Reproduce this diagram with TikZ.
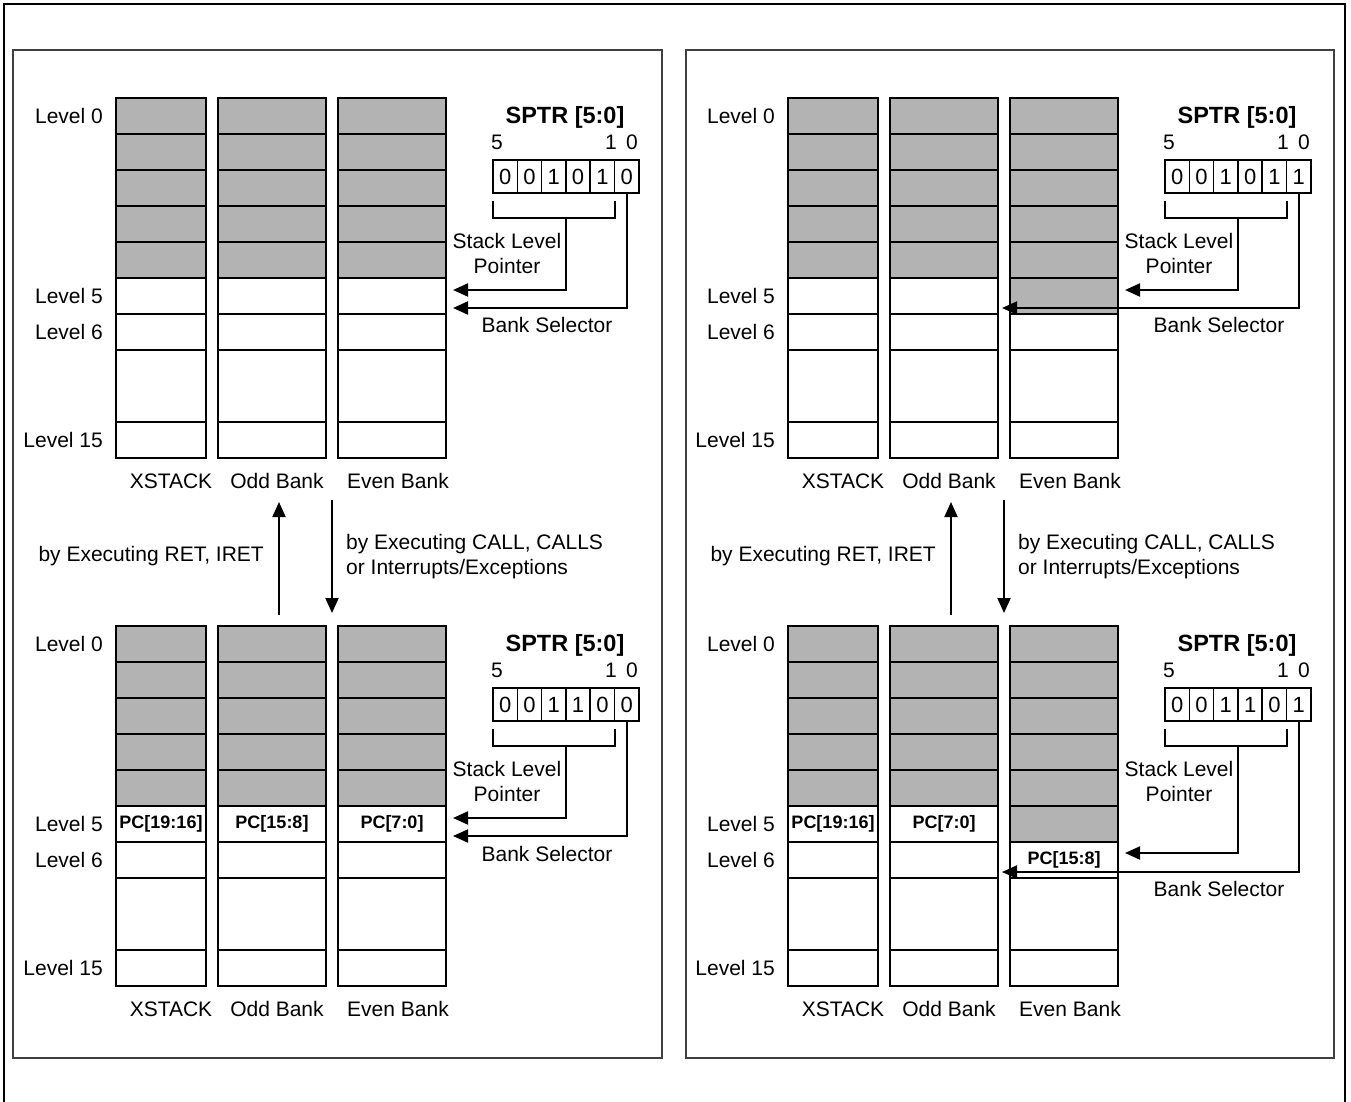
\documentclass[tikz,border=0pt]{standalone}
\usepackage{fontspec}
\setmainfont{Liberation Sans}
\usepackage{tikz}
\usetikzlibrary{arrows.meta, positioning}
\definecolor{stackgray}{RGB}{179,179,179}

\begin{document}
\begin{tikzpicture}[x=1pt, y=-1pt,
  cell/.style={rectangle, draw=black, line width=2pt, fill=white,
               minimum height=36pt, inner sep=0pt},
  shade/.style={cell, fill=stackgray},
  reg/.style={rectangle, draw=black, line width=1.6pt, minimum width=24.3pt,
              minimum height=33pt, inner sep=0pt, outer sep=0pt,
              font=\fontsize{22}{26}\selectfont},
  lvl/.style={inner sep=0pt, font=\fontsize{21}{25}\selectfont},
  bitno/.style={inner sep=0pt, font=\fontsize{21}{25}\selectfont},
  txt/.style={inner sep=0pt, font=\fontsize{21}{25}\selectfont, align=center},
  ttl/.style={inner sep=0pt, font=\fontsize{23.5}{28}\selectfont\bfseries},
  pclbl/.style={inner sep=0pt, font=\fontsize{18}{22}\selectfont\bfseries},
  ptr/.style={-{Triangle[length=15pt, width=13pt]}, line width=2pt},
  flow/.style={-{Triangle[length=15pt, width=13pt]}, line width=2pt},
  frame/.style={draw=black!75, line width=2pt}
]
  \useasboundingbox (0,0) rectangle (1351,1102);

  % the four stacks
  \foreach \p/\dx/\dy in {tl/0/0, tr/672/0, bl/0/528, br/672/528} {
    \foreach \c/\cx/\w in {x/161/90, o/272/108, e/392/108} {
      \foreach \r in {0,...,4}
        \node[shade, minimum width=\w] (\p\c\r) at (\cx+\dx, 116+36*\r+\dy) {};
      \node[cell, minimum width=\w] (\p\c5) at (\cx+\dx, 296+\dy) {};
      \node[cell, minimum width=\w] (\p\c6) at (\cx+\dx, 332+\dy) {};
      \node[cell, minimum width=\w, minimum height=72pt] (\p\c m) at (\cx+\dx, 386+\dy) {};
      \node[cell, minimum width=\w] (\p\c f) at (\cx+\dx, 440+\dy) {};
    }
    \node[lvl, left=12pt of \p x0] (\p l0) {Level 0};
    \node[lvl, left=12pt of \p x5] (\p l5) {Level 5};
    \node[lvl, left=12pt of \p x6] (\p l6) {Level 6};
    \node[lvl, left=12pt of \p xf] (\p lf) {Level 15};
    \node[txt] (\p xs) at (171+\dx, 481+\dy) {XSTACK};
    \node[txt] (\p ob) at (277+\dx, 481+\dy) {Odd Bank};
    \node[txt] (\p eb) at (398+\dx, 481+\dy) {Even Bank};
  }
  \node[shade, minimum width=108] (tre5s) at (tre5) {};
  \node[shade, minimum width=108] (bre5s) at (bre5) {};

  % pointer targets
  \coordinate (tlsl) at (453,290);
  \coordinate (tlbs) at (453,308);
  \coordinate (trsl) at (1125,290);
  \coordinate (trbs) at (1002,308);
  \coordinate (blsl) at (453,818);
  \coordinate (blbs) at (453,836);
  \coordinate (brsl) at (1125,853);
  \coordinate (brbs) at (1002,872);

  % SPTR registers
  \foreach \p/\dx/\dy/\ba/\bb/\bc/\bd/\be/\bf in
      {tl/0/0/0/0/1/0/1/0, tr/672/0/0/0/1/0/1/1, bl/0/528/0/0/1/1/0/0, br/672/528/0/0/1/1/0/1} {
    \node[ttl] (\p sp) at (565+\dx, 117+\dy) {SPTR [5:0]};
    \node[bitno] (\p n5) at (497+\dx, 142+\dy) {5};
    \node[bitno] (\p n1) at (611+\dx, 142+\dy) {1};
    \node[bitno] (\p n0) at (632+\dx, 142+\dy) {0};
    \node[reg] (\p b5) at (505.2+\dx, 176.5+\dy) {\ba};
    \node[reg, right=0pt of \p b5] (\p b4) {\bb};
    \node[reg, right=0pt of \p b4] (\p b3) {\bc};
    \node[reg, right=0pt of \p b3] (\p b2) {\bd};
    \node[reg, right=0pt of \p b2] (\p b1) {\be};
    \node[reg, right=0pt of \p b1] (\p b0) {\bf};
    \draw[line width=2pt] ([yshift=-8pt]\p b5.south west) -- ++(0,17) -| ([yshift=-8pt]\p b1.south east);
    \draw[ptr] ([yshift=-25pt]\p b3.south east) |- (\p sl);
    \draw[ptr] (\p b0.south) |- (\p bs);
    \node[txt] (\p slt) at (507+\dx, 253.5+\dy) {Stack Level\\Pointer};
  }
  \node[txt] (tlbst) at (547,325) {Bank Selector};
  \node[txt] (trbst) at (1219,325) {Bank Selector};
  \node[txt] (blbst) at (547,854) {Bank Selector};
  \node[txt] (brbst) at (1219,889) {Bank Selector};

  % pushed PC
  \node[pclbl] (blpc1) at (blx5) {PC[19:16]};
  \node[pclbl] (blpc2) at (blo5) {PC[15:8]};
  \node[pclbl] (blpc3) at (ble5) {PC[7:0]};
  \node[pclbl] (brpc1) at (brx5) {PC[19:16]};
  \node[pclbl] (brpc2) at (bro5) {PC[7:0]};
  \node[pclbl] (brpc3) at (bre6) {PC[15:8]};

  % call / return
  \coordinate (tlup) at (279,502);
  \coordinate (tldn) at (332,500);
  \coordinate (trup) at (951,502);
  \coordinate (trdn) at (1004,500);
  \draw[flow] ([xshift=7pt,yshift=10pt]blo0.north) -- (tlup);
  \draw[flow] (tldn) -- ([xshift=60pt,yshift=12pt]blo0.north);
  \draw[flow] ([xshift=7pt,yshift=10pt]bro0.north) -- (trup);
  \draw[flow] (trdn) -- ([xshift=60pt,yshift=12pt]bro0.north);
  \node[txt, anchor=east] (tlret) at (264,556) {by Executing RET, IRET};
  \node[txt, anchor=east] (trret) at (936,556) {by Executing RET, IRET};
  \node[txt, align=left, anchor=west] (tlcall) at (346,556.5) {by Executing CALL, CALLS\\or Interrupts/Exceptions};
  \node[txt, align=left, anchor=west] (trcall) at (1018,556.5) {by Executing CALL, CALLS\\or Interrupts/Exceptions};

  % frames
  \draw[line width=2.2pt] (4,1102) -- (4,4) -- (1345,4) -- (1345,1102);
  \draw[frame] (13,50) rectangle (662,1058);
  \draw[frame] (686,50) rectangle (1334,1058);
\end{tikzpicture}
\end{document}
